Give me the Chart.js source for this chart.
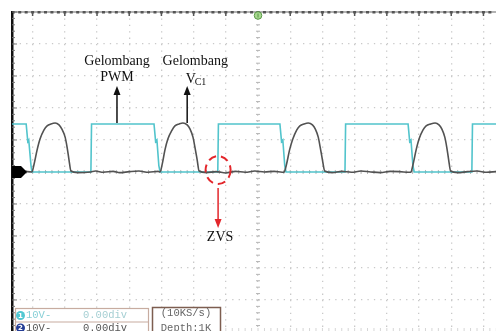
<!DOCTYPE html>
<html>
<head>
<meta charset="utf-8">
<script src="https://cdn.jsdelivr.net/npm/chart.js@4.4.1/dist/chart.umd.min.js"></script>
<style>
  html, body { margin: 0; padding: 0; background: #fff; overflow: hidden; }
  #wrap { width: 496px; height: 331px; }
</style>
</head>
<body>
<div id="wrap"><canvas id="scope" width="496" height="331"></canvas></div>
<script>
// x = time in divisions (0 = trigger), y = level in divisions (0 = ground)
const pwmTime = [-7.64, -7.20, -7.15, -7.12, -7.05, -7.02, -5.19, -5.17,
  -3.23, -3.18, -3.14, -3.08, -3.04, -1.25, -1.23,
  0.68, 0.73, 0.77, 0.83, 0.87, 2.70, 2.72,
  4.66, 4.71, 4.75, 4.81, 4.85, 6.64, 6.66, 7.39];
const pwmLevel = [1.5, 1.5, 0.95, 1.0, 0.2, 0, 0, 1.5,
  1.5, 0.95, 1.0, 0.2, 0, 0, 1.5,
  1.5, 0.95, 1.0, 0.2, 0, 0, 1.5,
  1.5, 0.95, 1.0, 0.2, 0, 0, 1.5, 1.5];

const vcTime = [-7.64, -7.30, -7.02,
  -6.96, -6.86, -6.77, -6.65, -6.55, -6.43, -6.30, -6.18, -6.09, -5.99, -5.93, -5.87, -5.81,
  -5.60, -5.20, -5.05, -4.80, -4.50, -4.30, -4.00, -3.70, -3.40, -3.10, -3.04,
  -2.98, -2.89, -2.80, -2.67, -2.58, -2.45, -2.33, -2.20, -2.11, -2.02, -1.96, -1.89, -1.83,
  -1.60, -1.30, -1.00, -0.70, -0.40, -0.10, 0.20, 0.50, 0.75, 0.81,
  0.88, 0.98, 1.08, 1.20, 1.30, 1.43, 1.56, 1.69, 1.78, 1.87, 1.93, 2.00, 2.07,
  2.30, 2.60, 2.90, 3.20, 3.50, 3.80, 4.10, 4.40, 4.70, 4.75,
  4.81, 4.91, 5.00, 5.12, 5.22, 5.36, 5.50, 5.62, 5.71, 5.80, 5.86, 5.92, 5.98,
  6.20, 6.50, 6.80, 7.10, 7.39];
const vcLevel = [0, 0.02, 0,
  0.22, 0.69, 1.03, 1.31, 1.44, 1.50, 1.53, 1.47, 1.34, 1.09, 0.78, 0.38, 0.03,
  -0.02, 0, 0.03, -0.01, 0.02, -0.02, 0.01, 0.03, -0.01, 0.02, 0,
  0.22, 0.69, 1.03, 1.31, 1.44, 1.50, 1.53, 1.47, 1.34, 1.09, 0.78, 0.38, 0.03,
  -0.02, 0.01, -0.03, 0.02, -0.01, 0.03, 0, 0.02, -0.01, 0,
  0.22, 0.69, 1.03, 1.31, 1.44, 1.50, 1.53, 1.47, 1.34, 1.09, 0.78, 0.38, 0.03,
  -0.02, 0.02, -0.01, 0.03, 0, -0.02, 0.02, 0.01, -0.01, 0,
  0.22, 0.69, 1.03, 1.31, 1.44, 1.50, 1.53, 1.47, 1.34, 1.09, 0.78, 0.38, 0.03,
  -0.02, 0.01, 0.03, -0.01, 0.01];

const xDivs = [-7, -6, -5, -4, -3, -2, -1, 0, 1, 2, 3, 4, 5, 6, 7];
const yDivs = [-4, -3, -2, -1, 0, 1, 2, 3, 4, 5];

const toPoints = (xs, ys) => xs.map((x, i) => ({ x: x, y: ys[i] }));

function line(ctx, x1, y1, x2, y2) {
    ctx.beginPath();
    ctx.moveTo(x1, y1);
    ctx.lineTo(x2, y2);
    ctx.stroke();
}

function arrowHead(ctx, x, y, dir) {
    // dir = -1 points up, 1 points down
    ctx.beginPath();
    ctx.moveTo(x, y);
    ctx.lineTo(x - 3.5, y - dir * 9);
    ctx.lineTo(x + 3.5, y - dir * 9);
    ctx.closePath();
    ctx.fill();
}

// scope graticule extras, markers, labels and status boxes
const scopeDecor = {
    id: 'scopeDecor',
    beforeDatasetsDraw(chart) {
        const { ctx, chartArea: a, scales: { x, y } } = chart;
        const x0 = x.getPixelForValue(0), y0 = y.getPixelForValue(0);
        ctx.save();
        ctx.strokeStyle = '#b5b5b5';
        ctx.lineWidth = 1;
        // minor ticks on centre axes
        for (let k = -24; k <= 25; k++) {
            const py = y.getPixelForValue(k / 5);
            line(ctx, x0 - 2, py, x0 + 2, py);
        }
        for (let k = -38; k <= 37; k++) {
            const px = x.getPixelForValue(k / 5);
            line(ctx, px, y0 - 2, px, y0 + 2);
        }
        ctx.strokeStyle = '#d6d6d6';
        for (let k = -38; k <= 37; k++) {
            const px = x.getPixelForValue(k / 5);
            line(ctx, px, a.bottom - 3, px, a.bottom);
        }
        // top border
        ctx.strokeStyle = '#9a9a9a';
        ctx.lineWidth = 1.5;
        line(ctx, a.left, a.top, a.right, a.top);
        ctx.fillStyle = '#555';
        for (let k = -38; k <= 36; k++) {
            const px = x.getPixelForValue(k / 5);
            ctx.fillRect(px - 1.5, a.top - 1, 3, 2.5);
            if (k % 5 === 0) ctx.fillRect(px - 0.75, a.top, 1.5, 4);
        }
        // left border
        ctx.fillStyle = '#111';
        ctx.fillRect(a.left - 1, a.top - 1, 2.5, a.bottom - a.top + 1);
        ctx.strokeStyle = '#777';
        ctx.lineWidth = 1;
        for (let k = -24; k <= 25; k++) {
            const py = y.getPixelForValue(k / 5);
            line(ctx, a.left, py, a.left + (k % 5 === 0 ? 5 : 3), py);
        }
        // trigger marker
        ctx.fillStyle = '#a8d890';
        ctx.strokeStyle = '#5a9a48';
        ctx.beginPath();
        ctx.arc(x0, a.top + 3.5, 3.8, 0, Math.PI * 2);
        ctx.fill();
        ctx.stroke();
        line(ctx, x0, a.top + 1.5, x0, a.top + 5.5);
        ctx.restore();
    },
    afterDatasetsDraw(chart) {
        const { ctx, chartArea: a, scales: { x, y } } = chart;
        const y0 = y.getPixelForValue(0);
        ctx.save();

        // ground marker for the channels
        ctx.fillStyle = '#000';
        ctx.beginPath();
        ctx.moveTo(a.left, y0 - 6);
        ctx.lineTo(a.left + 9, y0 - 6);
        ctx.lineTo(a.left + 15, y0);
        ctx.lineTo(a.left + 9, y0 + 6);
        ctx.lineTo(a.left, y0 + 6);
        ctx.closePath();
        ctx.fill();

        // labels with arrows
        ctx.fillStyle = '#111';
        ctx.strokeStyle = '#111';
        ctx.lineWidth = 1.5;
        ctx.font = '14px "Liberation Serif", "Times New Roman", serif';
        ctx.textAlign = 'center';
        ctx.textBaseline = 'middle';

        const pwmX = x.getPixelForValue(-4.38);
        const vcX = x.getPixelForValue(-2.2);
        const arrowBottom = y.getPixelForValue(1.53);
        const arrowTop = y.getPixelForValue(2.69);
        line(ctx, pwmX, arrowBottom, pwmX, arrowTop + 6);
        arrowHead(ctx, pwmX, arrowTop, -1);
        line(ctx, vcX, arrowBottom, vcX, arrowTop + 6);
        arrowHead(ctx, vcX, arrowTop, -1);

        const row1 = y.getPixelForValue(3.47), row2 = y.getPixelForValue(2.97);
        ctx.fillText('Gelombang', pwmX, row1);
        ctx.fillText('PWM', pwmX, row2);
        const vcTextX = x.getPixelForValue(-1.95);
        ctx.fillText('Gelombang', vcTextX, row1);
        ctx.textAlign = 'left';
        ctx.fillText('V', vcX - 1.5, y.getPixelForValue(2.91));
        ctx.font = '10px "Liberation Serif", "Times New Roman", serif';
        ctx.fillText('C1', vcX + 7.5, y.getPixelForValue(2.81));

        // ZVS marker
        const zx = x.getPixelForValue(-1.24);
        const zy = y.getPixelForValue(0.06);
        ctx.strokeStyle = '#e3262b';
        ctx.fillStyle = '#e3262b';
        ctx.lineWidth = 2;
        ctx.setLineDash([8, 5]);
        ctx.beginPath();
        ctx.ellipse(zx, zy, 12.5, 14, 0, 0, Math.PI * 2);
        ctx.stroke();
        ctx.setLineDash([]);
        ctx.lineWidth = 1.5;
        const zTop = y.getPixelForValue(-0.5), zTip = y.getPixelForValue(-1.75);
        line(ctx, zx, zTop, zx, zTip - 6);
        arrowHead(ctx, zx, zTip, 1);
        ctx.fillStyle = '#111';
        ctx.textAlign = 'center';
        ctx.font = '14px "Liberation Serif", "Times New Roman", serif';
        ctx.fillText('ZVS', zx + 2, y.getPixelForValue(-2.05));

        // status boxes at the bottom
        const bx = a.left + 3, btop = a.bottom - 23;
        ctx.fillStyle = '#fff';
        ctx.fillRect(bx, btop, 133, 30);
        ctx.fillRect(a.left + 140, btop - 1, 68, 31);
        ctx.strokeStyle = '#c7aca0';
        ctx.lineWidth = 1.2;
        ctx.strokeRect(bx + 0.5, btop + 0.5, 133, 30);
        line(ctx, bx, btop + 14, bx + 133, btop + 14);
        ctx.strokeStyle = '#7d5e50';
        ctx.lineWidth = 1.5;
        ctx.strokeRect(a.left + 140.5, btop - 0.5, 68, 31);

        const r1 = btop + 7.5, r2 = btop + 20;
        // channel badges
        ctx.fillStyle = '#52c8d2';
        ctx.beginPath(); ctx.arc(bx + 5.5, r1, 4.5, 0, Math.PI * 2); ctx.fill();
        ctx.fillStyle = '#253d95';
        ctx.beginPath(); ctx.arc(bx + 5.5, r2, 4.5, 0, Math.PI * 2); ctx.fill();
        ctx.fillStyle = '#fff';
        ctx.font = 'bold 7px "DejaVu Sans", sans-serif';
        ctx.textAlign = 'center';
        ctx.fillText('1', bx + 5.5, r1 + 0.5);
        ctx.fillText('2', bx + 5.5, r2 + 0.5);

        ctx.font = '10.5px "Liberation Mono", "DejaVu Sans Mono", monospace';
        ctx.textAlign = 'left';
        ctx.fillStyle = '#86cfd6';
        ctx.fillText('10V-', bx + 11, r1);
        ctx.fillStyle = '#a5cfd3';
        ctx.fillText('0.00div', bx + 68, r1);
        ctx.fillStyle = '#555';
        ctx.fillText('10V-', bx + 11, r2);
        ctx.fillText('0.00div', bx + 68, r2);

        ctx.textAlign = 'center';
        ctx.fillStyle = '#666';
        ctx.fillText('(10KS/s)', a.left + 174, btop + 5);
        ctx.fillText('Depth:1K', a.left + 174, r2);
        ctx.restore();
    }
};

new Chart(document.getElementById('scope'), {
    type: 'line',
    data: {
        datasets: [
            {
                label: 'Vc1',
                data: toPoints(vcTime, vcLevel),
                borderColor: '#525252',
                borderWidth: 1.6,
                pointRadius: 0,
                cubicInterpolationMode: 'monotone',
                order: 0
            },
            {
                label: 'PWM',
                data: toPoints(pwmTime, pwmLevel),
                borderColor: '#52c4cc',
                borderWidth: 1.6,
                pointRadius: 0,
                tension: 0,
                order: 1
            }
        ]
    },
    options: {
        responsive: false,
        animation: false,
        events: [],
        layout: { padding: { left: 12, top: 12, right: 0, bottom: 0 } },
        plugins: { legend: { display: false }, tooltip: { enabled: false } },
        scales: {
            x: {
                type: 'linear',
                min: -7.64,
                max: 7.39,
                afterBuildTicks: (scale) => { scale.ticks = xDivs.map(v => ({ value: v })); },
                ticks: { display: false },
                grid: { color: '#c9c9c9', lineWidth: 1.3, drawTicks: false },
                border: { display: false, dash: [1.3, 5.1] }
            },
            y: {
                type: 'linear',
                min: -4.97,
                max: 5,
                afterBuildTicks: (scale) => { scale.ticks = yDivs.map(v => ({ value: v })); },
                ticks: { display: false },
                grid: { color: '#c9c9c9', lineWidth: 1.3, drawTicks: false },
                border: { display: false, dash: [1.3, 5.14], dashOffset: 5.2 }
            }
        }
    },
    plugins: [scopeDecor]
});
</script>
</body>
</html>
